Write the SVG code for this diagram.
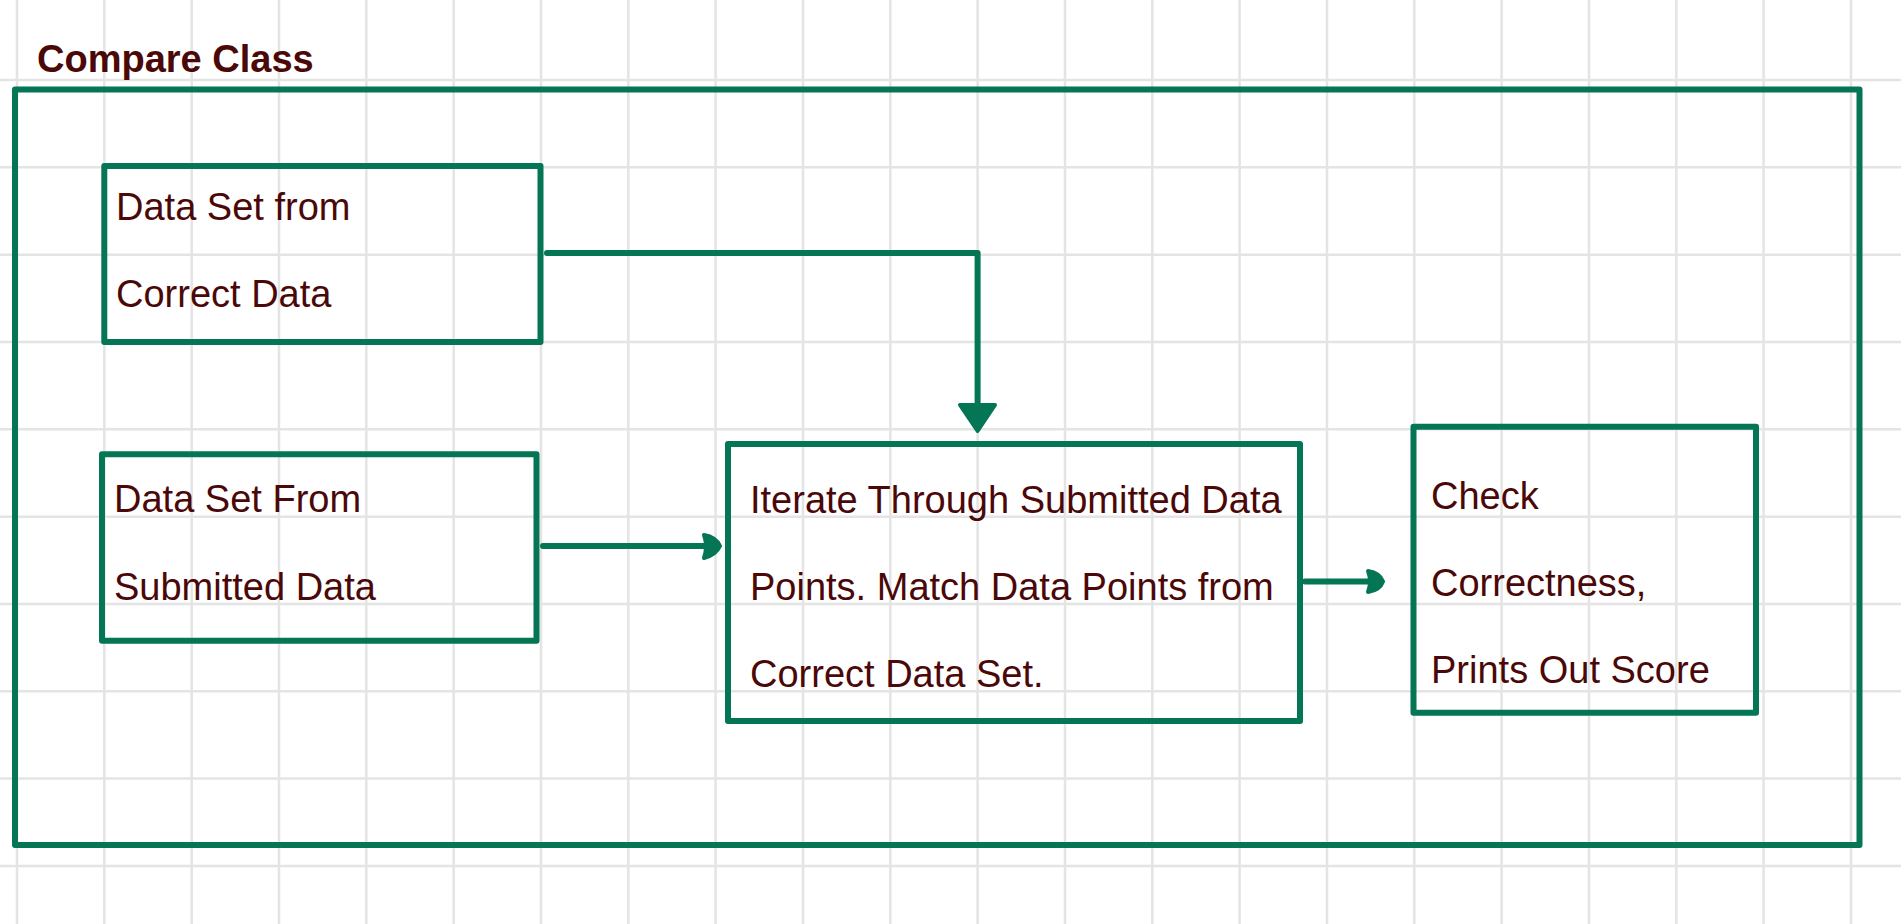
<svg xmlns="http://www.w3.org/2000/svg" width="1901" height="924" viewBox="0 0 1901 924">
<style>
.grid line{stroke:#e4e4e4;stroke-width:2.5}
.box{fill:none;stroke:#047555;stroke-width:6;stroke-linejoin:round}
.lbl{font-family:"Liberation Sans",Arial,sans-serif;font-size:38px;fill:#4b0808}
.title{font-family:"Liberation Sans",Arial,sans-serif;font-size:38px;font-weight:bold;fill:#4b0808}
.conn{fill:none;stroke:#047555;stroke-width:6;stroke-linecap:round;stroke-linejoin:round}
.head{fill:#047555;stroke:#047555;stroke-width:4;stroke-linejoin:round}
</style>
<rect width="1901" height="924" fill="#ffffff"/>
<g class="grid">
<line x1="17" y1="0" x2="17" y2="924"/><line x1="104.3" y1="0" x2="104.3" y2="924"/><line x1="191.7" y1="0" x2="191.7" y2="924"/><line x1="279" y1="0" x2="279" y2="924"/><line x1="366.3" y1="0" x2="366.3" y2="924"/><line x1="453.7" y1="0" x2="453.7" y2="924"/><line x1="541" y1="0" x2="541" y2="924"/><line x1="628.3" y1="0" x2="628.3" y2="924"/><line x1="715.6" y1="0" x2="715.6" y2="924"/><line x1="803" y1="0" x2="803" y2="924"/><line x1="890.3" y1="0" x2="890.3" y2="924"/><line x1="977.6" y1="0" x2="977.6" y2="924"/><line x1="1065" y1="0" x2="1065" y2="924"/><line x1="1152.3" y1="0" x2="1152.3" y2="924"/><line x1="1239.6" y1="0" x2="1239.6" y2="924"/><line x1="1327" y1="0" x2="1327" y2="924"/><line x1="1414.3" y1="0" x2="1414.3" y2="924"/><line x1="1501.6" y1="0" x2="1501.6" y2="924"/><line x1="1589" y1="0" x2="1589" y2="924"/><line x1="1676.3" y1="0" x2="1676.3" y2="924"/><line x1="1763.6" y1="0" x2="1763.6" y2="924"/><line x1="1851" y1="0" x2="1851" y2="924"/>
<line x1="0" y1="80" x2="1901" y2="80"/><line x1="0" y1="167.3" x2="1901" y2="167.3"/><line x1="0" y1="254.7" x2="1901" y2="254.7"/><line x1="0" y1="342" x2="1901" y2="342"/><line x1="0" y1="429.3" x2="1901" y2="429.3"/><line x1="0" y1="516.7" x2="1901" y2="516.7"/><line x1="0" y1="604" x2="1901" y2="604"/><line x1="0" y1="691.3" x2="1901" y2="691.3"/><line x1="0" y1="778.6" x2="1901" y2="778.6"/><line x1="0" y1="866" x2="1901" y2="866"/>
</g>
<g id="compare-class">
<rect class="box" x="15" y="89.5" width="1844.5" height="755.5"/>
<text class="title" x="37" y="72">Compare Class</text>
</g>
<g id="node-correct">
<rect class="box" x="104.3" y="166" width="436.2" height="176"/>
<text class="lbl" x="116" y="220">Data Set from</text>
<text class="lbl" x="116" y="307">Correct Data</text>
</g>
<g id="node-submitted">
<rect class="box" x="102" y="454.3" width="434.5" height="186.4"/>
<text class="lbl" x="114" y="512">Data Set From</text>
<text class="lbl" x="114" y="600">Submitted Data</text>
</g>
<g id="node-iterate">
<rect class="box" x="728" y="444" width="572" height="277"/>
<text class="lbl" x="750" y="512.7">Iterate Through Submitted Data</text>
<text class="lbl" x="750" y="600">Points. Match Data Points from</text>
<text class="lbl" x="750" y="687">Correct Data Set.</text>
</g>
<g id="node-check">
<rect class="box" x="1413.5" y="426.7" width="342.5" height="286"/>
<text class="lbl" x="1431" y="509">Check</text>
<text class="lbl" x="1431" y="596">Correctness,</text>
<text class="lbl" x="1431" y="683">Prints Out Score</text>
</g>
<g id="connectors">
<path class="conn" d="M547,253 H977.6 V406"/>
<path class="head" d="M960,405 L995,405 L977.6,431 Z"/>
<path class="conn" d="M543,546 H712"/>
<path class="head" d="M704,535 Q716,537 720,546 Q716,555 704,558 Q708,546 704,535 Z"/>
<path class="conn" d="M1305,581.5 H1376"/>
<path class="head" d="M1368,571 Q1380,573 1383,581.5 Q1380,590 1368,592 Q1372,581.5 1368,571 Z"/>
</g>
</svg>
